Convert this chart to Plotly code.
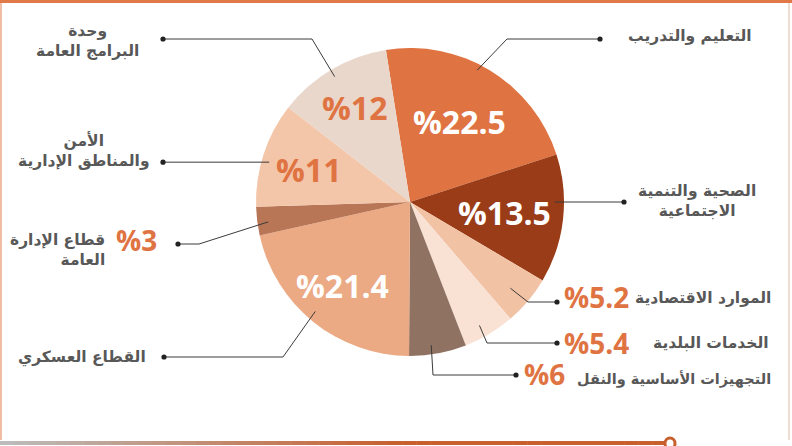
import math
import plotly.graph_objects as go

# ---------------- data ----------------
categories = [
    "التعليم والتدريب",
    "الصحية والتنمية الاجتماعية",
    "الموارد الاقتصادية",
    "الخدمات البلدية",
    "التجهيزات الأساسية والنقل",
    "القطاع العسكري",
    "قطاع الإدارة العامة",
    "الأمن والمناطق الإدارية",
    "وحدة البرامج العامة",
]
label_lines = [
    "التعليم والتدريب",
    "الصحية والتنمية<br>الاجتماعية",
    "الموارد الاقتصادية",
    "الخدمات البلدية",
    "التجهيزات الأساسية والنقل",
    "القطاع العسكري",
    "قطاع الإدارة<br>العامة",
    "الأمن<br>والمناطق الإدارية",
    "وحدة<br>البرامج العامة",
]
values = [22.5, 13.5, 5.2, 5.4, 6, 21.4, 3, 11, 12]
colors = ["#E07342", "#9A3C17", "#F2C2A4", "#F9E1D3", "#8F7262",
          "#EBAA84", "#B97656", "#F4C6A9", "#EAD7CB"]

# ---------------- layout constants ----------------
W, H = 792, 446
CX, CY, R = 410, 202, 154
ROT = -9
ORANGE = "#E07342"
GRAY_TXT = "#585858"

def px(x):
    return x / W

def py(y):
    return 1 - y / H

# mid angles (clockwise from 12 o'clock)
total = sum(values)
mids = []
a = ROT
for v in values:
    span = 360 * v / total
    mids.append(a + span / 2)
    a += span

def polar(angle, rfrac):
    t = math.radians(angle)
    return CX + R * rfrac * math.sin(t), CY - R * rfrac * math.cos(t)

fig = go.Figure(go.Pie(
    labels=categories, values=values, sort=False, direction="clockwise",
    rotation=ROT, marker=dict(colors=colors, line=dict(width=0)),
    textinfo="none", hoverinfo="label+value", showlegend=False,
    domain=dict(x=[px(CX - R), px(CX + R)], y=[py(CY + R), py(CY - R)]),
))

annotations = []
shapes = []

# in-pie labels
inside = {0: (0.61, "white"), 1: (0.62, "white"), 5: (0.70, "white"),
          7: (0.69, ORANGE), 8: (0.71, ORANGE)}
for i, (rf, col) in inside.items():
    x, y = polar(mids[i], rf)
    annotations.append(dict(x=px(x), y=py(y), xref="paper", yref="paper",
                            text=f"%{values[i]:g}", showarrow=False,
                            font=dict(family="Open Sans", size=32, color=col, weight="bold"),
                            xanchor="center", yanchor="middle"))

# leader lines: angle nudge, radius fraction, elbow, dot
leaders = {
    0: (-4.5, 0.96, (507, 39), (600, 39)),
    1: (-6.3, 0.94, None, (624, None)),
    2: (0.7, 0.86, (528, 302), (557, 302)),
    3: (1.6, 0.92, (487, 343), (557, 343)),
    4: (2.0, 0.94, (433, 375), (516, 375)),
    5: (2.0, 0.94, (283, 357), (164, 357)),
    6: (-0.8, 0.93, (199, 244), (178, 244)),
    7: (-2.2, 0.95, None, (163, None)),
    8: (-0.4, 0.95, (312, 39), (163, 39)),
}
LINE = dict(color="#3A3A3A", width=1)
for i, (nudge, rf, elbow, dot) in leaders.items():
    sx, sy = polar(mids[i] + nudge, rf)
    dx, dy = dot
    if dy is None:
        dy = sy
    pts = [(sx, sy)]
    if elbow is not None:
        pts.append(elbow)
    pts.append((dx, dy))
    for (x0, y0), (x1, y1) in zip(pts[:-1], pts[1:]):
        shapes.append(dict(type="line", xref="paper", yref="paper",
                           x0=px(x0), y0=py(y0), x1=px(x1), y1=py(y1), line=LINE))
    shapes.append(dict(type="circle", xref="paper", yref="paper",
                       x0=px(dx - 2.6), x1=px(dx + 2.6), y0=py(dy + 2.6), y1=py(dy - 2.6),
                       fillcolor="#222222", line=dict(width=0)))

# category labels: (x, y, xanchor, align, size)
cat_pos = {
    0: (690, 36, "center", "center", 15.5),
    1: (697, 201, "center", "center", 15.5),
    2: (773, 298, "right", "right", 15.5),
    3: (771, 343, "right", "right", 15.5),
    4: (773, 379, "right", "right", 14.5),
    5: (148, 357, "right", "right", 15.5),
    6: (107, 250, "right", "right", 15.5),
    7: (84, 150, "center", "center", 15.5),
    8: (87, 41, "center", "center", 15.5),
}
for i, (x, y, xa, al, fs) in cat_pos.items():
    annotations.append(dict(x=px(x), y=py(y), xref="paper", yref="paper",
                            text=label_lines[i], showarrow=False,
                            font=dict(family="DejaVu Sans", size=fs, color=GRAY_TXT, weight="bold"),
                            xanchor=xa, yanchor="middle", align=al))

# orange outside percentages (left edge x, center y)
pct_pos = {2: (562, 297), 3: (562, 343), 4: (522, 374), 6: (114, 240)}
for i, (x, y) in pct_pos.items():
    annotations.append(dict(x=px(x), y=py(y), xref="paper", yref="paper",
                            text=f"%{values[i]:g}", showarrow=False,
                            font=dict(family="Open Sans", size=28, color=ORANGE, weight="bold"),
                            xanchor="left", yanchor="middle"))

# frame decorations
shapes.append(dict(type="rect", xref="paper", yref="paper", x0=0, x1=1,
                   y0=py(3), y1=1, fillcolor="#E07848", line=dict(width=0)))
shapes.append(dict(type="line", xref="paper", yref="paper", x0=px(1), x1=px(1),
                   y0=py(440), y1=py(3), line=dict(color="#EBA888", width=1.5)))
shapes.append(dict(type="line", xref="paper", yref="paper", x0=px(789), x1=px(789),
                   y0=py(440), y1=py(3), line=dict(color="#EAD2C6", width=1.5)))
# bottom gradient bar
N = 48
x_end = 666
for k in range(N):
    t = min(1.0, (k / (N - 1)) / 0.6)
    r = int(188 + (200 - 188) * t)
    g = int(188 + (96 - 188) * t)
    b = int(188 + (46 - 188) * t)
    shapes.append(dict(type="rect", xref="paper", yref="paper",
                       x0=px(x_end * k / N), x1=px(x_end * (k + 1) / N + 0.5),
                       y0=py(445), y1=py(441), fillcolor=f"rgb({r},{g},{b})",
                       line=dict(width=0)))
shapes.append(dict(type="circle", xref="paper", yref="paper",
                   x0=px(665), x1=px(675), y0=py(449), y1=py(438),
                   fillcolor="white", line=dict(color="#C8602E", width=3)))

fig.update_layout(
    width=W, height=H, margin=dict(l=0, r=0, t=0, b=0),
    paper_bgcolor="white", plot_bgcolor="white",
    annotations=annotations, shapes=shapes, showlegend=False,
)
fig.write_html("out.html", config={"displayModeBar": False},
               post_script="document.body.style.margin='0px';document.body.style.overflow='hidden';")
